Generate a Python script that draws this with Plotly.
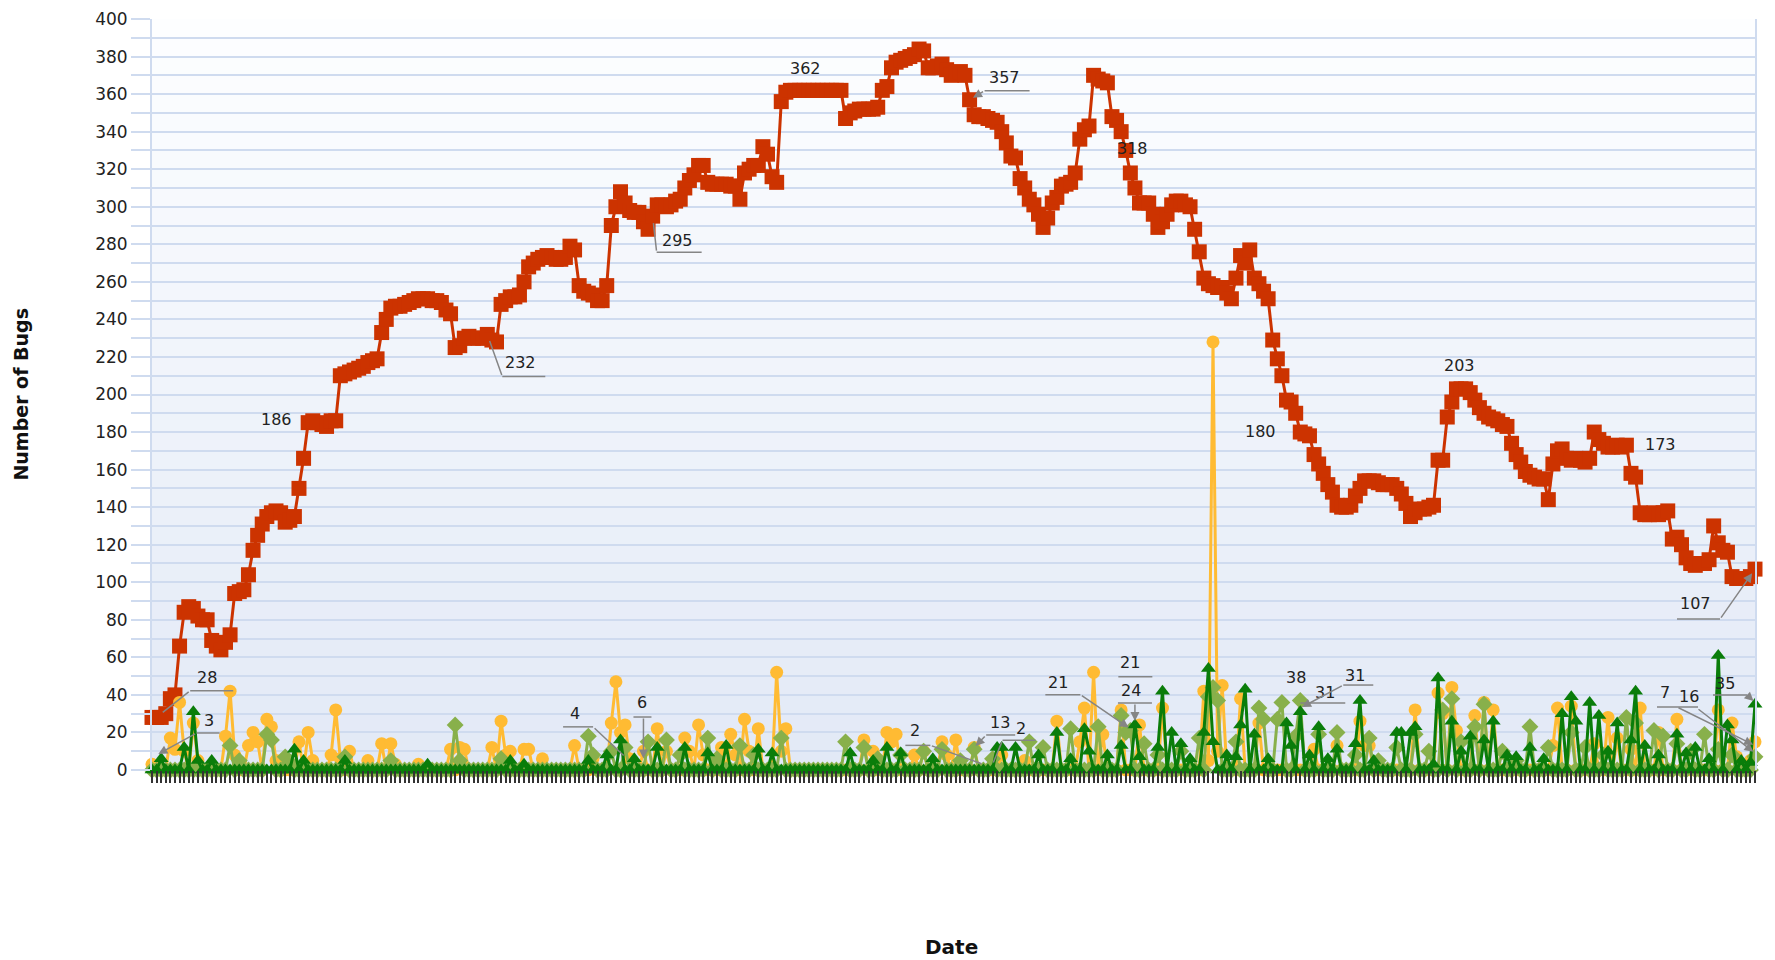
import pandas as pd
import plotly.graph_objects as go

N_DAYS = 350
dates = pd.date_range("2009-01-01", periods=N_DAYS, freq="D")

# Total open bugs (red squares)
open_bugs = [
    28, 28, 28, 30, 38, 40, 66, 84, 87, 86,
    82, 80, 80, 69, 66, 64, 68, 72, 94, 95,
    96, 104, 117, 125, 131, 135, 137, 138, 137, 132,
    133, 135, 150, 166, 185, 186, 185, 184, 183, 186,
    186, 210, 211, 212, 213, 214, 215, 217, 218, 219,
    233, 240, 246, 247, 247, 248, 249, 250, 251, 251,
    251, 250, 250, 249, 245, 243, 225, 226, 230, 231,
    230, 230, 230, 232, 229, 228, 248, 250, 252, 252,
    253, 260, 268, 270, 272, 273, 274, 273, 272, 272,
    273, 279, 277, 258, 255, 254, 253, 250, 250, 258,
    290, 300, 308, 302, 298, 297, 297, 292, 288, 295,
    301, 301, 300, 301, 303, 304, 310, 314, 317, 322,
    322, 313, 312, 312, 312, 312, 311, 311, 304, 318,
    320, 322, 322, 332, 328, 316, 313, 356, 361, 362,
    362, 362, 362, 362, 362, 362, 362, 362, 362, 362,
    362, 347, 350, 351, 352, 352, 352, 352, 353, 362,
    364, 374, 377, 378, 379, 380, 381, 384, 383, 374,
    374, 375, 376, 373, 370, 371, 372, 370, 357, 349,
    348, 348, 347, 346, 345, 340, 334, 327, 326, 315,
    310, 304, 301, 296, 289, 294, 302, 305, 311, 312,
    313, 318, 336, 341, 343, 370, 368, 367, 366, 348,
    346, 340, 330, 318, 310, 302, 302, 302, 296, 289,
    292, 296, 301, 303, 303, 301, 300, 288, 276, 262,
    259, 258, 257, 257, 254, 251, 262, 274, 270, 277,
    262, 259, 255, 251, 229, 219, 210, 197, 196, 190,
    180, 179, 178, 168, 163, 158, 152, 148, 141, 140,
    140, 141, 146, 150, 154, 154, 154, 153, 152, 152,
    152, 150, 147, 142, 135, 137, 139, 139, 140, 141,
    165, 165, 188, 196, 203, 203, 203, 201, 197, 193,
    190, 188, 187, 186, 184, 183, 174, 168, 164, 159,
    157, 156, 155, 155, 144, 163, 170, 171, 166, 165,
    166, 165, 164, 166, 180, 176, 174, 172, 172, 173,
    172, 173, 158, 156, 137, 136, 136, 137, 136, 137,
    138, 123, 124, 120, 113, 110, 109, 110, 110, 112,
    130, 121, 117, 116, 103, 102, 102, 102, 103, 107,
]

# Daily counts: (day index, value); all other days are 0
yellow_points = [
    (0, 3), (4, 17), (5, 11), (6, 36), (7, 10), (9, 25), (10, 5), (16, 18), (17, 42), (18, 8),
    (21, 13), (22, 20), (23, 15), (25, 27), (26, 23), (27, 5), (32, 15), (34, 20), (35, 5),
    (39, 8), (40, 32), (41, 6), (43, 10), (47, 5), (50, 14), (52, 14), (53, 3), (58, 3),
    (65, 11), (67, 12), (68, 11), (74, 12), (76, 26), (77, 8), (78, 10), (81, 11), (82, 11),
    (85, 6), (92, 13), (96, 6), (100, 25), (101, 47), (102, 20), (103, 24), (104, 6), (107, 10),
    (110, 22), (112, 10), (116, 17), (117, 10), (119, 24), (120, 8), (124, 12), (126, 19),
    (127, 8), (129, 27), (130, 10), (132, 22), (136, 52), (137, 10), (138, 22), (155, 16),
    (157, 10), (160, 20), (161, 15), (162, 19), (166, 8), (168, 10), (172, 15), (173, 8),
    (175, 16), (179, 12), (185, 8), (190, 5), (197, 26), (202, 15), (203, 33), (205, 52),
    (207, 19), (211, 32), (215, 24), (220, 33), (229, 42), (230, 5), (231, 228), (232, 10),
    (233, 45), (237, 38), (241, 25), (243, 1), (253, 11), (258, 13), (263, 26), (264, 13),
    (265, 13), (275, 32), (280, 41), (281, 30), (283, 44), (284, 21), (288, 29), (290, 36),
    (292, 32), (305, 13), (306, 33), (309, 34), (314, 14), (317, 28), (319, 17), (322, 11),
    (324, 33), (328, 20), (332, 27), (341, 32), (344, 25), (345, 7), (348, 5), (349, 15),
]
diamond_points = [
    (17, 13), (19, 5), (25, 19), (26, 16), (29, 7), (30, 4), (42, 7), (52, 5), (66, 24), (67, 5),
    (76, 6), (95, 18), (96, 8), (100, 10), (103, 12), (108, 15), (112, 16), (115, 8), (121, 17),
    (123, 6), (128, 13), (131, 8), (137, 17), (151, 15), (155, 12), (158, 6), (163, 8), (168, 10),
    (172, 11), (176, 5), (179, 11), (183, 6), (191, 15), (194, 12), (200, 22), (206, 23),
    (211, 29), (212, 20), (213, 21), (216, 14), (219, 8), (224, 10), (228, 17), (230, 39),
    (231, 44), (232, 37), (236, 15), (241, 33), (242, 27), (245, 27), (246, 36), (249, 18),
    (250, 37), (254, 19), (258, 20), (262, 8), (265, 17), (267, 5), (271, 12), (275, 19),
    (278, 10), (281, 32), (283, 38), (285, 15), (288, 23), (290, 35), (294, 10), (297, 5),
    (300, 23), (304, 12), (309, 20), (312, 12), (316, 8), (321, 28), (323, 25), (327, 21),
    (329, 18), (332, 14), (335, 10), (338, 19), (341, 11), (344, 8), (349, 7),
]
triangle_points = [
    (2, 6), (7, 12), (9, 31), (10, 5), (13, 5), (31, 11), (33, 5), (42, 5), (60, 3), (78, 5),
    (81, 3), (95, 5), (99, 8), (102, 16), (105, 6), (110, 12), (116, 12), (121, 9), (125, 13),
    (132, 11), (135, 9), (152, 9), (157, 5), (160, 12), (163, 9), (170, 6), (184, 12), (185, 12),
    (188, 12), (193, 8), (197, 20), (200, 6), (203, 22), (204, 10), (208, 8), (211, 13),
    (214, 24), (215, 7), (219, 12), (220, 42), (222, 20), (224, 14), (226, 6), (229, 20),
    (230, 54), (231, 15), (234, 8), (236, 7), (237, 24), (238, 43), (240, 19), (243, 6),
    (247, 25), (248, 13), (250, 31), (252, 8), (254, 23), (256, 6), (258, 11), (262, 14),
    (263, 37), (266, 5), (271, 20), (272, 20), (274, 20), (275, 23), (279, 3), (280, 49),
    (283, 26), (285, 10), (287, 18), (290, 16), (292, 26), (295, 8), (297, 7), (300, 12),
    (303, 6), (307, 30), (309, 39), (310, 26), (313, 36), (315, 29), (317, 10), (319, 25),
    (322, 16), (323, 42), (325, 13), (328, 8), (332, 19), (334, 9), (336, 12), (339, 6),
    (341, 61), (343, 24), (344, 16), (346, 5), (348, 4), (349, 35),
]

# Value labels: text, anchor day, anchor value
label_texts = ["186", "232", "295", "362", "357", "318", "180", "203", "173", "107",
               "28", "3", "4", "6", "2", "13", "2", "21", "21", "24", "38", "31", "31",
               "7", "16", "35"]
label_days = [35, 73, 109, 139, 178, 213, 250, 284, 321, 349,
              2, 1, 103, 107, 181, 179, 183, 213, 213, 214, 250, 250, 250,
              349, 349, 349]
label_values = [186, 232, 295, 362, 357, 318, 180, 203, 173, 107,
                30, 8, 7, 5, 3, 12, 3, 22, 22, 25, 37, 33, 33,
                13, 9, 36]

# Label placement (pixel offsets from anchor; screen y grows downward)
label_offsets = [(-36, -1), (33, 28), (25, 24), (15, -22), (35, -22), (2, -24), (-40, -1),
                 (3, -23), (34, -1), (-60, 34),
                 (46, -36), (52, -34), (-50, -43), (-1.5, -58.6), (-68, -34), (26, -24.5),
                 (28.5, -36), (-72, -46), (0, -66), (-4, -33), (-4, -23.5), (25, -16),
                 (55, -33), (-90, -52.6), (-66, -57), (-30, -19.4)]
# underline (x0, x1, y) or None
label_underlines = [None, (15, 58, 42), (4, 49, 36), None, (15, 60, -9), None, None, None, None,
                    (-78, -35, 50),
                    (29, 72, -23), (40, 63, -22), (-62, -32, -30), (-10, 8, -43.6), (-78, -53, -19),
                    (12, 41, -12.5), (10, 43, -24), (-85, -50, -34), (-12, 22, -52), (-17, 17, -20),
                    None, (0, 45, -5), (43, 73, -23), (-98, -57, -38.6), None, (-42, -8, -7.4)]
# leader start (x, y, arrowhead, standoff) or None
label_leaders = [None, (15, 42, 0, 7), (4, 36, 0, 7), None, (15, -9, 2, 4), None, None, None, None,
                 (-35, 50, 2, 5),
                 (29, -23, 0, 2), (40, -22, 2, 2), (-32, -30, 0, 2), (0, -43.6, 2, 2), (-53, -19, 0, 2),
                 (12, -12.5, 2, 2), (10, -24, 0, 2), (-50, -34, 2, 2), None, (0, -20, 2, 2),
                 None, None, (43, -23, 2, 2), (-78, -38.6, 2, 2), (-58, -45, 2, 2), (-8, -7.4, 2, 2)]


def expand(points):
    vals = [0] * N_DAYS
    for i, v in points:
        vals[i] = v
    return vals


yellow = expand(yellow_points)
diamond = expand(diamond_points)
triangle = expand(triangle_points)

FONT = "DejaVu Sans"
GRID = "#cfdbef"
LEADER = "#858585"

fig = go.Figure()
fig.add_trace(go.Scatter(
    x=dates, y=open_bugs, mode="lines+markers", cliponaxis=False,
    line=dict(color="#cc3300", width=3),
    marker=dict(symbol="square", size=15, color="#cc3300"),
))
fig.add_trace(go.Scatter(
    x=dates, y=yellow, mode="lines+markers", cliponaxis=False,
    line=dict(color="#ffbb33", width=3),
    marker=dict(symbol="circle", size=13, color="#ffbb33"),
))
fig.add_trace(go.Scatter(
    x=dates, y=diamond, mode="lines+markers", cliponaxis=False,
    line=dict(color="#88b04b", width=3),
    marker=dict(symbol="diamond", size=13, color="#88b04b"),
))
fig.add_trace(go.Scatter(
    x=dates, y=triangle, mode="lines+markers", cliponaxis=False,
    line=dict(color="#0a7d0a", width=3),
    marker=dict(symbol="triangle-up", size=13, color="#0a7d0a"),
))

# background gradient bands
shapes = []
bands = 40
top = (253, 254, 255)
bot = (226, 233, 246)
for b in range(bands):
    f = (b + 0.5) / bands
    c = tuple(round(bot[k] + (top[k] - bot[k]) * f) for k in range(3))
    shapes.append(dict(
        type="rect", xref="paper", yref="y", x0=0, x1=1,
        y0=400 * b / bands, y1=400 * (b + 1) / bands,
        fillcolor="rgb(%d,%d,%d)" % c, line=dict(width=0), layer="below",
    ))

annotations = []
for k, text in enumerate(label_texts):
    xd = dates[label_days[k]]
    yv = label_values[k]
    dx, dy = label_offsets[k]
    annotations.append(dict(
        x=xd, y=yv, text=text, showarrow=False, xshift=dx, yshift=-dy,
        font=dict(family=FONT, size=16, color="#222222"),
    ))
    ul = label_underlines[k]
    if ul is not None:
        shapes.append(dict(
            type="line", xref="x", yref="y", xsizemode="pixel", ysizemode="pixel",
            xanchor=xd, yanchor=yv, x0=ul[0], x1=ul[1], y0=-ul[2], y1=-ul[2],
            line=dict(color=LEADER, width=1.5), layer="above",
        ))
    ld = label_leaders[k]
    if ld is not None:
        annotations.append(dict(
            x=xd, y=yv, text="", showarrow=True, ax=ld[0], ay=ld[1],
            arrowhead=ld[2], arrowsize=1.2, arrowwidth=1.5, arrowcolor=LEADER, standoff=ld[3],
        ))

annotations.append(dict(
    xref="paper", yref="paper", x=-0.0823, y=0.5, xanchor="center", yanchor="middle",
    text="<b>Number of Bugs</b>", textangle=-90, showarrow=False,
    font=dict(family=FONT, size=19, color="#111111"),
))
annotations.append(dict(
    xref="paper", yref="paper", x=0.499, y=-0.2357, xanchor="center", yanchor="middle",
    text="<b>Date</b>", showarrow=False, font=dict(family=FONT, size=20, color="#111111"),
))

fig.update_layout(
    width=1775, height=960,
    margin=dict(l=144, r=28, t=11, b=198, autoexpand=False),
    paper_bgcolor="white", plot_bgcolor="white",
    showlegend=False,
    shapes=shapes, annotations=annotations,
    font=dict(family=FONT, size=16, color="#222222"),
)
fig.update_xaxes(
    type="date", range=[dates[0], dates[-1]], automargin=False,
    showgrid=False, zeroline=False, showline=False,
    showticklabels=False, ticks="outside", ticklen=12, tickwidth=2, tickcolor="#333333",
    tick0=dates[0], dtick=86400000,
)
fig.update_yaxes(
    range=[0, 400], dtick=20, tick0=0, automargin=False,
    showgrid=True, gridcolor=GRID, gridwidth=1.5, zeroline=False,
    showline=True, linecolor=GRID, linewidth=2, mirror=True,
    ticks="outside", ticklen=19, tickwidth=1.5, tickcolor=GRID,
    tickfont=dict(family=FONT, size=17, color="#222222"),
    minor=dict(dtick=10, showgrid=True, gridcolor=GRID, gridwidth=1.5,
               ticks="outside", ticklen=19, tickwidth=1.5, tickcolor=GRID),
)

fig.write_html("out.html")
